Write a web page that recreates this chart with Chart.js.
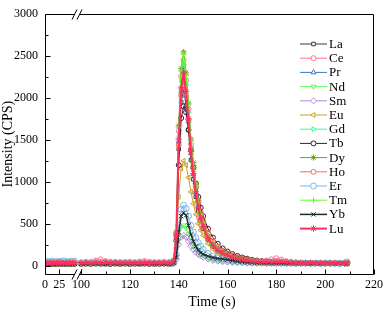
<!DOCTYPE html>
<html><head><meta charset="utf-8">
<script src="https://cdn.jsdelivr.net/npm/chart.js@4.4.0/dist/chart.umd.min.js"></script>
<style>html,body{margin:0;padding:0;background:#fff}canvas{display:block}</style>
</head><body><canvas id="c" width="387" height="315"></canvas>
<script>
const timeA = [0,4,8,12,16,20,24,28,32,36,40,44,48,52];
const timeB = [100,102,104,106,108,110,112,114,116,118,120,122,124,126,128,130,132,134,136,
  137,138,139,140,141,142,143,144,145,146,147,148,149,150,
  152,154,156,158,160,162,164,166,168,170,172,174,176,178,180,182,184,186,188,190,192,194,196,198,200,202,204,206,208,209];

const elements = ['La','Ce','Pr','Nd','Sm','Eu','Gd','Tb','Dy','Ho','Er','Tm','Yb','Lu'];

const laA = [24,21,26,23,25,22,27,24,21,25,23,26,22,24];
const laB = [22,25,20,24,27,21,23,26,22,24,20,25,23,21,26,24,22,25,23, 35,50,340,1390,1950,2100,1910,1620,1260,1030,820,650,530,440, 305,225,172,140,118,98,82,70,60,52,46,42,38,35,33,31,30,28,29,27,26,28,25,27,26,24,26,25,24,25];
const ceA = [32,36,30,38,34,40,35,31,37,33,39,34,36,32];
const ceB = [30,35,45,60,75,55,40,35,38,42,36,33,48,55,40,36,34,38,35, 35,60,390,1610,2260,2450,2210,1870,1450,1190,940,750,610,510, 345,255,195,158,130,108,90,75,64,56,52,54,62,75,88,72,54,44,38,35,32,33,30,31,30,29,33,30,29,31];
const prA = [40,35,45,38,42,36,44,39,41,37,43,38,45,40];
const prB = [26,28,24,30,27,25,29,26,28,24,27,30,25,28,26,29,24,27,26, 34,55,360,1480,2080,2250,2030,1720,1340,1090,870,700,570,470, 320,238,180,146,122,102,85,72,62,54,48,43,40,37,35,33,31,30,29,28,28,26,28,27,27,26,27,26,28,32];
const ndA = [22,19,24,21,23,20,25,22,19,23,21,24,20,22];
const ndB = [20,23,19,22,25,21,24,20,23,19,22,24,21,23,20,22,25,21,23, 22,30,95,330,460,480,450,380,300,250,205,170,140,120, 90,70,58,50,44,39,35,33,31,29,29,27,28,26,27,25,28,26,27,25,26,24,27,25,26,24,25,27,25,26];
const smA = [26,23,28,25,27,24,29,26,23,27,25,28,24,26];
const smB = [24,22,27,25,23,26,22,28,24,25,23,27,22,26,24,23,27,25,22, 21,27,75,250,340,360,340,290,230,190,160,135,115,100, 78,62,52,46,41,37,34,31,29,28,27,28,26,27,25,26,27,25,26,24,25,26,24,25,27,24,26,25,24,26];
const euA = [27,24,29,26,28,25,30,27,24,28,26,29,25,27];
const euB = [25,27,23,28,26,24,29,25,27,23,26,28,24,27,25,23,28,26,24, 28,42,210,820,1160,1250,1200,1050,880,740,610,500,420,360, 260,195,152,122,100,84,70,60,52,46,41,37,34,32,31,29,28,30,27,29,28,26,28,27,26,28,27,25,27,26];
const gdA = [25,22,27,24,26,23,28,25,22,26,24,27,23,25];
const gdB = [23,26,22,27,24,25,21,26,23,27,22,25,24,26,21,25,23,27,24, 34,58,380,1570,2210,2400,2160,1830,1420,1160,920,730,590,490, 335,248,190,154,127,105,88,74,63,55,48,43,39,36,34,32,31,31,29,30,29,27,29,28,27,29,28,27,29,28];
const tbA = [23,20,25,22,24,21,26,23,20,24,22,25,21,23];
const tbB = [21,24,20,25,22,23,19,24,21,25,20,23,22,24,19,23,21,25,22, 30,50,300,1200,1760,1900,1830,1620,1380,1170,980,820,690,590, 440,335,260,205,168,138,115,97,82,70,60,53,47,43,40,37,35,35,33,32,33,31,32,30,31,30,32,30,29,31];
const dyA = [29,26,31,28,30,27,32,29,26,30,28,31,27,29];
const dyB = [27,24,29,26,28,25,30,27,24,28,26,29,25,27,24,28,26,29,27, 36,60,400,1670,2350,2550,2300,1940,1510,1230,970,770,620,520, 350,258,196,158,130,108,90,76,65,57,50,45,41,38,35,33,32,33,30,32,31,29,31,30,29,31,30,29,31,30];
const hoA = [28,25,30,27,29,26,31,28,25,29,27,30,26,28];
const hoB = [26,29,25,30,28,35,45,38,30,27,29,26,31,28,27,30,26,29,28, 33,52,350,1440,2030,2200,2020,1740,1390,1160,940,770,640,540, 390,290,222,178,146,120,100,85,72,62,54,48,44,40,42,46,43,38,35,34,32,34,31,33,32,30,32,31,30,33];
const erA = [45,50,42,55,48,44,52,46,58,49,43,51,47,53];
const erB = [35,40,32,38,36,42,34,39,37,33,41,36,38,34,40,35,37,39,36, 26,36,130,480,670,720,680,590,480,400,330,275,230,195, 145,113,92,77,66,57,50,44,40,37,34,33,31,30,32,30,29,31,28,30,29,27,30,28,29,31,30,28,33,45];
const tmA = [26,23,28,25,27,24,29,26,23,27,25,28,24,26];
const tmB = [24,21,26,23,25,22,27,24,21,25,23,26,22,24,21,25,23,26,24, 36,60,395,1650,2320,2520,2270,1920,1490,1210,960,760,610,510, 345,255,194,156,128,106,88,74,64,56,49,44,40,37,35,33,31,32,29,31,30,28,30,29,28,30,29,28,30,29];
const ybA = [19,17,21,18,20,16,22,19,17,21,18,20,16,19];
const ybB = [20,18,22,19,21,17,23,20,18,22,19,21,17,20,22,18,21,19,20, 22,30,100,400,590,630,600,480,370,290,230,185,155,135, 112,96,86,78,70,60,50,42,38,34,32,30,29,28,27,28,26,27,25,26,27,25,26,24,26,25,24,26,25,24];
const luA = [32,29,34,31,33,30,35,32,29,33,31,34,30,32];
const luB = [30,33,28,34,31,35,29,33,30,34,28,32,31,35,29,33,30,34,31, 34,56,370,1510,2120,2300,2080,1750,1360,1100,880,700,565,470, 325,240,182,148,122,100,84,71,61,53,48,45,42,40,42,45,41,37,34,32,30,32,29,31,30,28,30,29,28,30];

const yTicks = [0,500,1000,1500,2000,2500,3000];
const yMinor = [250,750,1250,1750,2250,2750];
const xTicksA = [0,25];
const xTicksB = [100,120,140,160,180,200,220];
const xMinorB = [110,130,150,170,190,210];

const seriesA = [laA,ceA,prA,ndA,smA,euA,gdA,tbA,dyA,hoA,erA,tmA,ybA,luA];
const seriesB = [laB,ceB,prB,ndB,smB,euB,gdB,tbB,dyB,hoB,erB,tmB,ybB,luB];

const colors = ['#2f3d4a','#ff6f8e','#3a78c8','#5cff5c','#b08cd8','#c9a227','#30ff95','#3b1a3b','#6b9e1f','#ff6a48','#80b4e6','#62ff2e','#1c2b33','#ff2e5f'];
const styles = ['rect','circle','triangle','triangle','rectRot','triangle','triangle','circle','star','circle','circle','cross','crossRot','star'];
const rotations = [0,0,0,180,0,270,90,0,0,0,0,0,0,0];
const radii = [2.5,2.5,2.8,2.8,3,2.8,2.8,2.5,3,2.5,3,3,3,3.2];
const widths = [1,1,1,1,1,1,1,1,1,1,1,1,1.5,2];

const FONT = "'Liberation Serif','Times New Roman',serif";
Chart.defaults.color = '#000';
Chart.defaults.font.family = FONT;

const datasets = [];
elements.forEach((el, i) => {
  const common = {
    label: el, borderColor: colors[i], backgroundColor: 'rgba(255,255,255,0)',
    pointBorderColor: colors[i], pointBackgroundColor: 'rgba(255,255,255,0)',
    pointStyle: styles[i], pointRotation: rotations[i], pointRadius: radii[i],
    pointBorderWidth: 1, borderWidth: widths[i], tension: 0, order: 13 - i
  };
  datasets.push(Object.assign({}, common, {xAxisID: 'xa', data: timeA.map((t, k) => ({x: t, y: seriesA[i][k]}))}));
  datasets.push(Object.assign({}, common, {xAxisID: 'xb', data: timeB.map((t, k) => ({x: t, y: seriesB[i][k]}))}));
});

const deco = {
  id: 'deco',
  afterDraw(chart) {
    const ctx = chart.ctx, ca = chart.chartArea;
    const ys = chart.scales.y, xa = chart.scales.xa, xb = chart.scales.xb;
    ctx.save();
    ctx.strokeStyle = '#000'; ctx.lineWidth = 1;
    const L = Math.round(ca.left) + 0.5, R = Math.round(ca.right) - 0.5;
    const T = Math.round(ca.top) + 0.5, B = Math.round(ca.bottom) + 0.5;
    const g1 = 74.5, g2 = 79.5;
    ctx.beginPath();
    ctx.moveTo(g1, T); ctx.lineTo(L, T); ctx.lineTo(L, B); ctx.lineTo(g1, B);
    ctx.moveTo(g2, B); ctx.lineTo(R, B); ctx.lineTo(R, T); ctx.lineTo(g2, T);
    ctx.stroke();
    [T, B].forEach(yy => {
      ctx.beginPath();
      ctx.moveTo(72, yy + 5); ctx.lineTo(77, yy - 5);
      ctx.moveTo(77, yy + 5); ctx.lineTo(82, yy - 5);
      ctx.stroke();
    });
    ctx.beginPath();
    yTicks.forEach(v => { const p = Math.round(ys.getPixelForValue(v)) + 0.5; ctx.moveTo(L, p); ctx.lineTo(L + 5, p); });
    yMinor.forEach(v => { const p = Math.round(ys.getPixelForValue(v)) + 0.5; ctx.moveTo(L, p); ctx.lineTo(L + 3, p); });
    xTicksA.forEach(v => { const p = Math.round(xa.getPixelForValue(v)) + 0.5; ctx.moveTo(p, B); ctx.lineTo(p, B - 5); });
    xTicksB.forEach(v => { const p = Math.round(xb.getPixelForValue(v)) + 0.5; ctx.moveTo(p, B); ctx.lineTo(p, B - 5); });
    xMinorB.forEach(v => { const p = Math.round(xb.getPixelForValue(v)) + 0.5; ctx.moveTo(p, B); ctx.lineTo(p, B - 3); });
    ctx.stroke();

    ctx.fillStyle = '#000';
    ctx.font = '14px ' + FONT;
    ctx.textAlign = 'center'; ctx.textBaseline = 'middle';
    ctx.fillText('Time (s)', 212, 302);

    const H = Chart.helpers;
    ctx.font = '13px ' + FONT;
    ctx.textAlign = 'left';
    elements.forEach((el, i) => {
      const y = 44 + i * 14.2;
      ctx.strokeStyle = colors[i]; ctx.lineWidth = widths[i];
      ctx.beginPath(); ctx.moveTo(300, y); ctx.lineTo(327, y); ctx.stroke();
      if (H && H.drawPoint) {
        ctx.fillStyle = '#fff'; ctx.strokeStyle = colors[i]; ctx.lineWidth = 1;
        H.drawPoint(ctx, {pointStyle: styles[i], rotation: rotations[i], radius: radii[i], borderWidth: 1}, 313.5, y);
      }
      ctx.fillStyle = '#000';
      ctx.fillText(el, 329, y + 0.5);
    });
    ctx.restore();
  }
};

new Chart(document.getElementById('c'), {
  type: 'line',
  data: {datasets},
  options: {
    responsive: false, animation: false, devicePixelRatio: 1,
    layout: {padding: {top: 7, right: 10, left: 0, bottom: 0}},
    plugins: {legend: {display: false}, tooltip: {enabled: false}},
    scales: {
      y: {
        type: 'linear', min: -100, max: 3000,
        afterBuildTicks: s => { s.ticks = yTicks.map(v => ({value: v})); },
        afterFit: s => { s.width = 45; },
        grid: {display: false, drawTicks: false},
        border: {display: false},
        ticks: {font: {size: 12, family: FONT}, color: '#000', padding: 7, callback: v => String(v)},
        title: {display: true, text: 'Intensity (CPS)', font: {size: 14, family: FONT}, color: '#000', padding: 0}
      },
      xa: {
        type: 'linear', position: 'bottom', stack: 'x', stackWeight: 33,
        min: 0, max: 57,
        afterBuildTicks: s => { s.ticks = xTicksA.map(v => ({value: v})); },
        afterFit: s => { s.height = 41; },
        grid: {display: false, drawTicks: false},
        border: {display: false},
        ticks: {font: {size: 12, family: FONT}, color: '#000', padding: 4, autoSkip: false, maxRotation: 0, callback: v => String(v)}
      },
      xb: {
        type: 'linear', position: 'bottom', stack: 'x', stackWeight: 299,
        min: 98.6, max: 220,
        afterBuildTicks: s => { s.ticks = xTicksB.map(v => ({value: v})); },
        afterFit: s => { s.height = 41; },
        grid: {display: false, drawTicks: false},
        border: {display: false},
        ticks: {font: {size: 12, family: FONT}, color: '#000', padding: 4, autoSkip: false, maxRotation: 0, callback: v => String(v)}
      }
    }
  },
  plugins: [deco]
});
</script>
</body></html>
